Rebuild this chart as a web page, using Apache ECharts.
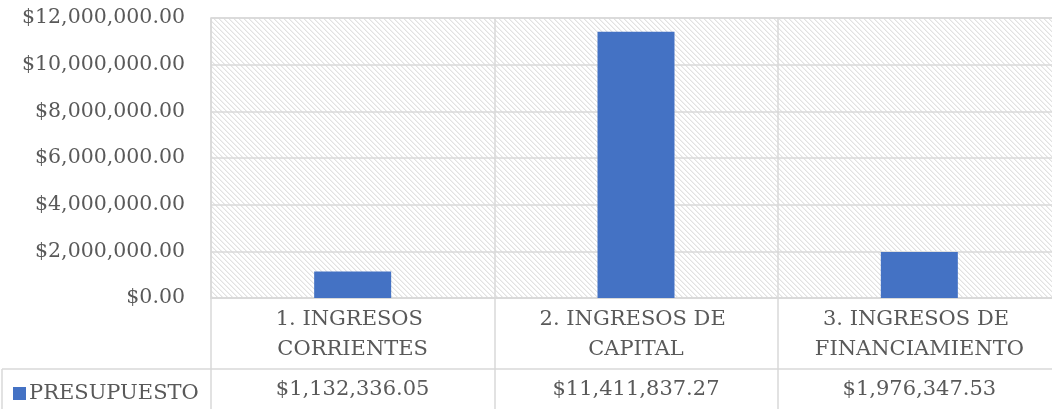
<!DOCTYPE html>
<html><head><meta charset="utf-8">
<script src="https://cdn.jsdelivr.net/npm/echarts@6/dist/echarts.min.js"></script>
<style>html,body{margin:0;padding:0;background:#fff}#c{width:1052px;height:409px}</style>
</head><body><div id="c"></div>
<script>
const categories = ["1. INGRESOS CORRIENTES", "2. INGRESOS DE CAPITAL", "3. INGRESOS DE FINANCIAMIENTO"];
const seriesName = "PRESUPUESTO";
const values = [1132336.05, 11411837.27, 1976347.53];
const yMin = 0, yMax = 12000000, yStep = 2000000;

const FONT = "DejaVu Serif";
const TXT = "#595959";
const LINE = "#d9d9d9";
const fmt = v => "$" + v.toLocaleString("en-US", {minimumFractionDigits: 2, maximumFractionDigits: 2});

// hatched pattern
const N = 5;
const pc = document.createElement("canvas");
pc.width = N; pc.height = N;
const px = pc.getContext("2d");
px.fillStyle = "#ffffff"; px.fillRect(0, 0, N, N);
px.fillStyle = "#e2e2e2";
for (let i = 0; i < N; i++) px.fillRect(i, i, 1, 1);
px.fillStyle = "#f1f1f1";
for (let i = 0; i < N; i++) px.fillRect((i + 1) % N, i, 1, 1);

const chart = echarts.init(document.getElementById("c"), null, {renderer: "canvas"});
chart.setOption({
  animation: false,
  textStyle: {fontFamily: FONT, color: TXT},
  grid: {left: 211, width: 850, top: 18, height: 280, show: true, outerBoundsMode: "none", containLabel: false,
         backgroundColor: {image: pc, repeat: "repeat"}, borderColor: LINE, borderWidth: 1.5},
  legend: {left: 8, top: 378, itemWidth: 13, itemHeight: 13, itemGap: 5,
           icon: "rect", data: [seriesName],
           textStyle: {fontFamily: FONT, fontSize: 21, color: TXT, padding: [0, 0, 0, -2]}},
  xAxis: [{
    type: "category", data: categories, position: "bottom",
    axisLine: {show: true, lineStyle: {color: LINE, width: 1.5}},
    axisTick: {show: true, interval: 0, length: 111, lineStyle: {color: LINE, width: 1.5}},
    splitLine: {show: true, interval: 0, lineStyle: {color: LINE, width: 1.5}},
    axisLabel: {interval: 0, margin: 7, fontFamily: FONT, fontSize: 21, color: TXT,
                lineHeight: 30, width: 260, overflow: "break", align: "center"}
  }, {
    type: "category", data: categories, position: "bottom", offset: 71,
    axisLine: {show: true, lineStyle: {color: LINE, width: 1.5}},
    axisTick: {show: false},
    axisLabel: {interval: 0, margin: 10, fontFamily: FONT, fontSize: 21, color: TXT,
                formatter: (v, i) => fmt(values[i])}
  }],
  yAxis: {
    type: "value", min: yMin, max: yMax, interval: yStep,
    axisLine: {show: false}, axisTick: {show: false},
    splitLine: {show: true, lineStyle: {color: LINE, width: 1.5}},
    axisLabel: {margin: 26, fontFamily: FONT, fontSize: 20.5, color: TXT, formatter: v => fmt(v)}
  },
  series: [{
    name: seriesName, type: "bar", data: values, barWidth: 77,
    itemStyle: {color: "#4472C4"}
  }],
  graphic: [
    {type: "line", shape: {x1: 2, y1: 369, x2: 211, y2: 369}, style: {stroke: LINE, lineWidth: 1.5}},
    {type: "line", shape: {x1: 2, y1: 369, x2: 2, y2: 409}, style: {stroke: LINE, lineWidth: 1.5}}
  ]
});
</script></body></html>
